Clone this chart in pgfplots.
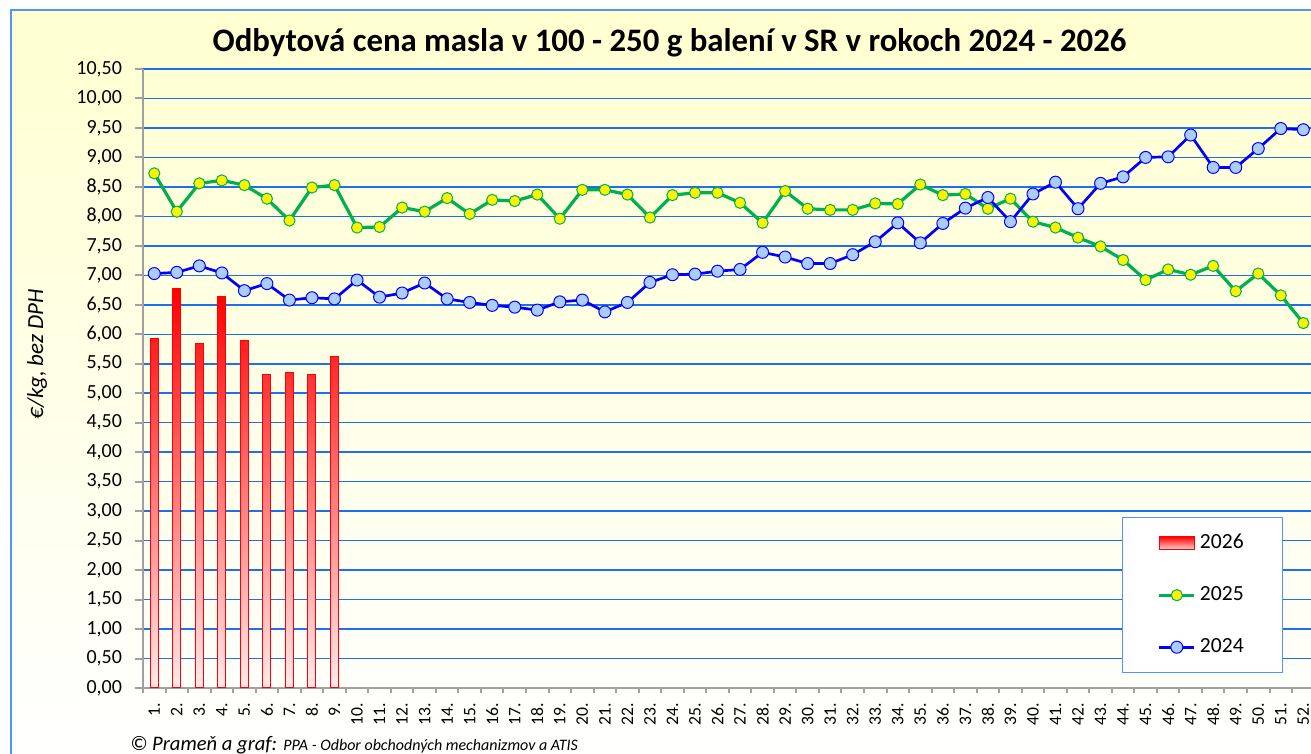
\documentclass[border=0pt]{standalone}
\usepackage{pgfplots}
\pgfplotsset{compat=1.18}
\usepackage{fontspec}
\setmainfont{Carlito}
\definecolor{gridblue}{RGB}{30,110,240}
\definecolor{frameblue}{RGB}{80,150,250}
\definecolor{bgyellow}{RGB}{255,255,208}
\definecolor{g25}{RGB}{0,176,80}
\definecolor{b24}{RGB}{0,0,255}
\definecolor{b24fill}{RGB}{170,204,255}
\definecolor{axgray}{RGB}{160,160,160}
\pgfplotsset{
  lineleg/.style={legend image code/.code={\draw[mark repeat=2,mark phase=2,##1] plot coordinates {(0pt,0pt) (8.75pt,0pt) (17.5pt,0pt)};}},
  barleg/.style={legend image code/.code={\draw[draw=red, line width=0.5pt, top color=red, bottom color=red!15!white] (0pt,-3.25pt) rectangle (17.5pt,3.25pt);}},
}
\begin{document}
\begin{tikzpicture}
\useasboundingbox (0pt,0pt) rectangle (655.5pt,377pt);
\shade[top color=bgyellow, bottom color=white] (5.5pt,-5pt) rectangle (670pt,372pt);
\draw[frameblue, line width=1pt] (5.5pt,-5pt) -- (5.5pt,372pt) -- (670pt,372pt);
\begin{axis}[
  at={(71.5pt,33pt)}, anchor=south west,
  scale only axis, width=585.8pt, height=309.5pt,
  xmin=0.5, xmax=52.5, ymin=0, ymax=10.5,
  axis lines*=left,
  axis line style={axgray, line width=1pt, -},
  tick align=outside,
  major tick length=4pt,
  minor tick length=2.5pt,
  ytick={0.5,1,1.5,2,2.5,3,3.5,4,4.5,5,5.5,6,6.5,7,7.5,8,8.5,9,9.5,10,10.5},
  extra y ticks={0},
  extra y tick style={grid=none},
  ymajorgrids,
  y grid style={gridblue, line width=0.75pt},
  ytick style={axgray, line width=1pt},
  yticklabel style={font=\fontsize{10}{12}\selectfont, xshift=-3pt},
  /pgf/number format/.cd, fixed, fixed zerofill, precision=2, use comma, 1000 sep={}, assume math mode=true,
  /pgfplots/.cd,
  xtick={1,...,52},
  xticklabels={1.,2.,3.,4.,5.,6.,7.,8.,9.,10.,11.,12.,13.,14.,15.,16.,17.,18.,19.,20.,21.,22.,23.,24.,25.,26.,27.,28.,29.,30.,31.,32.,33.,34.,35.,36.,37.,38.,39.,40.,41.,42.,43.,44.,45.,46.,47.,48.,49.,50.,51.,52.},
  major x tick style={draw=none},
  minor xtick={0.5,1.5,...,52.5},
  minor x tick style={axgray, line width=1pt},
  xticklabel style={rotate=90, anchor=east, font=\fontsize{8.8}{10}\selectfont, yshift=0pt},
  legend style={at={(0.8356,0.2763)}, anchor=north west, draw=frameblue, line width=0.75pt, fill=white,
    inner xsep=17.5pt, inner ysep=5.75pt, row sep=12pt,
    nodes={inner sep=2pt, text height=7.5pt, text depth=2.5pt, font=\fontsize{10.8}{12}\selectfont}},
  legend cell align=left,
]
\addplot[ybar, bar width=4pt, draw=red, line width=0.5pt, top color=red, middle color=red, bottom color=red!8!white, barleg]
  coordinates {(1,5.92) (2,6.77) (3,5.84) (4,6.64) (5,5.89) (6,5.32) (7,5.36) (8,5.32) (9,5.62)};
\addlegendentry{2026}
\addplot[g25, line width=1.6pt, mark=*, mark size=2.8pt, mark options={fill=yellow, draw=g25, line width=0.5pt}, lineleg]
  coordinates {(1,8.73) (2,8.08) (3,8.56) (4,8.61) (5,8.53) (6,8.30) (7,7.93) (8,8.49) (9,8.53) (10,7.81)
  (11,7.82) (12,8.15) (13,8.08) (14,8.31) (15,8.04) (16,8.28) (17,8.26) (18,8.37) (19,7.96) (20,8.45)
  (21,8.45) (22,8.37) (23,7.98) (24,8.36) (25,8.40) (26,8.40) (27,8.23) (28,7.89) (29,8.43) (30,8.13)
  (31,8.11) (32,8.11) (33,8.22) (34,8.21) (35,8.54) (36,8.36) (37,8.38) (38,8.13) (39,8.30) (40,7.91)
  (41,7.81) (42,7.64) (43,7.49) (44,7.26) (45,6.92) (46,7.10) (47,7.01) (48,7.16) (49,6.73) (50,7.03)
  (51,6.66) (52,6.19)};
\addlegendentry{2025}
\addplot[b24, line width=1.35pt, mark=*, mark size=3pt, mark options={fill=b24fill, draw=b24, line width=0.5pt}, lineleg]
  coordinates {(1,7.03) (2,7.05) (3,7.16) (4,7.04) (5,6.74) (6,6.86) (7,6.58) (8,6.62) (9,6.60) (10,6.92)
  (11,6.63) (12,6.70) (13,6.87) (14,6.60) (15,6.54) (16,6.49) (17,6.46) (18,6.41) (19,6.55) (20,6.58)
  (21,6.38) (22,6.54) (23,6.88) (24,7.01) (25,7.02) (26,7.07) (27,7.10) (28,7.39) (29,7.31) (30,7.20)
  (31,7.20) (32,7.35) (33,7.57) (34,7.89) (35,7.55) (36,7.88) (37,8.14) (38,8.32) (39,7.91) (40,8.38)
  (41,8.58) (42,8.13) (43,8.56) (44,8.67) (45,9.00) (46,9.01) (47,9.38) (48,8.83) (49,8.83) (50,9.15)
  (51,9.49) (52,9.47)};
\addlegendentry{2024}
\end{axis}
\node[font=\fontsize{16.4}{19}\selectfont\bfseries] at (334.75pt,355.5pt) {Odbytová cena masla v 100 - 250 g balení v SR v rokoch 2024 - 2026};
\node[rotate=90, font=\fontsize{11.5}{13}\selectfont\itshape] at (18.5pt,200pt) {€/kg, bez DPH};
\node[anchor=base west, inner sep=0pt] at (65pt,1.5pt) {\fontsize{10.3}{12}\selectfont\itshape © Prameň a graf: \fontsize{8}{10}\selectfont PPA - Odbor obchodných mechanizmov a ATIS};
\end{tikzpicture}
\end{document}
